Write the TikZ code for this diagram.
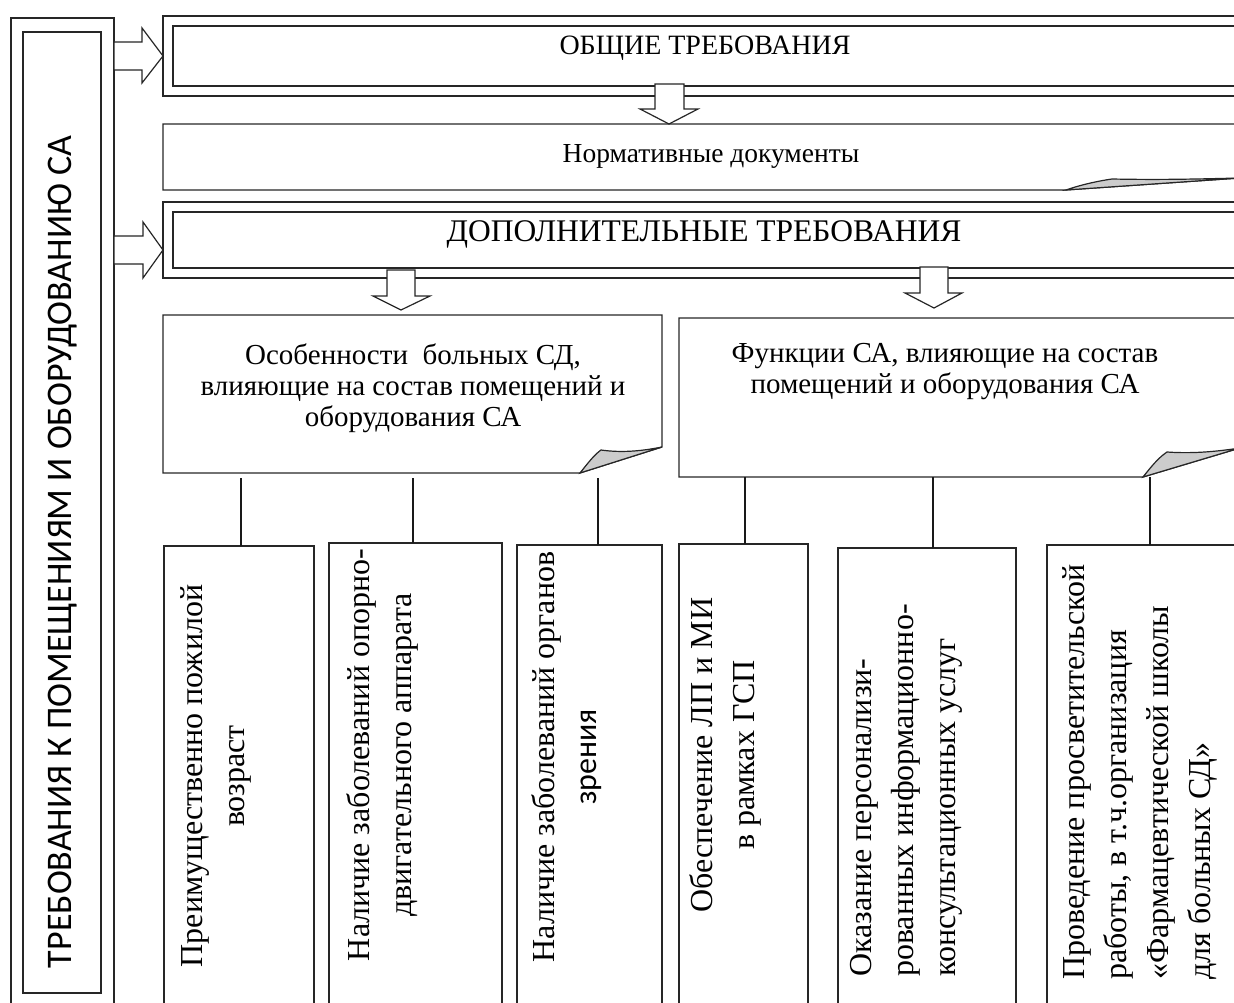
\documentclass[tikz,border=0pt]{standalone}
\usepackage{fontspec}
\setmainfont{Liberation Serif}
\newfontfamily\calib{Carlito}
\usetikzlibrary{calc}
\begin{document}
\begin{tikzpicture}[x=1pt,y=-1pt, line join=miter,
  box/.style={draw=black!85, line width=1.2pt, inner sep=0pt, outer sep=0pt, anchor=north west},
  ghost/.style={inner sep=0pt, outer sep=0pt, anchor=north west},
  outline/.style={draw=black!85, line width=1.2pt},
  flap/.style={fill=black!20, draw=black!85, line width=1.2pt},
  barrow/.style={draw=black!85, fill=white, line width=1.2pt},
  link/.style={draw=black!90, line width=2pt},
  midtxt/.style={font=\fontsize{29}{31}\selectfont, align=center, inner sep=0pt},
  vtxt/.style={rotate=90, font=\fontsize{32}{42}\selectfont, inner sep=0pt}
]
\useasboundingbox (0,0) rectangle (1234,1003);
\clip (0,0) rectangle (1234,1003);

% left title box
\node[box, minimum width=103pt, minimum height=1000pt] (Lout) at (11,18) {};
\node[box, minimum width=78pt, minimum height=961pt] (Lin) at (23,32) {};
\node[rotate=90, font=\calib\fontsize{36}{40}\selectfont, inner sep=0pt] (Ltitle) at (63,552) {ТРЕБОВАНИЯ К ПОМЕЩЕНИЯМ И ОБОРУДОВАНИЮ СА};

% general requirements
\node[box, minimum width=1100pt, minimum height=80pt] (Gout) at (163,16) {};
\node[box, minimum width=1080pt, minimum height=60pt] (Gin) at (173,26) {};
\node[font=\fontsize{28}{30}\selectfont, inner sep=0pt] (Gtxt) at (705,48) {ОБЩИЕ ТРЕБОВАНИЯ};

% normative documents
\node[ghost, minimum width=1077pt, minimum height=66pt] (Norm) at (163,124) {};
\draw[outline] (Norm.north west) -- (Norm.north east) -- ($(Norm.south east)+(0,-12)$) -- (1066,190) -- (Norm.south west) -- cycle;
\draw[flap] (1066,190) .. controls (1080,185) and (1098,181) .. (1112,179) .. controls (1160,180) and (1200,179) .. ($(Norm.south east)+(0,-12)$) -- cycle;
\node[font=\fontsize{27.5}{30}\selectfont, inner sep=0pt] (Ntxt) at (711,156) {Нормативные документы};

% additional requirements
\node[box, minimum width=1100pt, minimum height=76pt] (Dout) at (163,202) {};
\node[box, minimum width=1080pt, minimum height=56pt] (Din) at (173,212) {};
\node[font=\fontsize{31.5}{34}\selectfont, inner sep=0pt] (Dtxt) at (704,234) {ДОПОЛНИТЕЛЬНЫЕ ТРЕБОВАНИЯ};

% block arrows from the left box
\draw[barrow] (Lout.east |- 0,42) -- (142,42) -- (142,28) -- (Gout.west |- 0,56) -- (142,83) -- (142,70) -- (Lout.east |- 0,70) -- cycle;
\draw[barrow] (Lout.east |- 0,236) -- (143,236) -- (143,222) -- (Dout.west |- 0,250) -- (143,278) -- (143,264) -- (Lout.east |- 0,264) -- cycle;

% middle boxes
\node[ghost, minimum width=499pt, minimum height=158pt] (Osob) at (163,315) {};
\draw[outline] (Osob.north west) -- (Osob.north east) -- (662,447) -- (580,473) -- (Osob.south west) -- cycle;
\draw[flap] (580,473) .. controls (588,463) and (594,455) .. (601,450) .. controls (622,453) and (642,451) .. (662,447) -- cycle;
\node[midtxt] (Otxt) at (413,388) {Особенности\ \ больных СД,\\влияющие на состав помещений и\\оборудования СА};

\node[ghost, minimum width=561pt, minimum height=159pt] (Func) at (679,318) {};
\draw[outline] (Func.north west) -- (Func.north east) -- (1240,448) -- (1143,477) -- (Func.south west) -- cycle;
\draw[flap] (1143,477) .. controls (1151,467) and (1158,458) .. (1167,452) .. controls (1195,454) and (1220,451) .. (1240,448) -- cycle;
\node[midtxt] (Ftxt) at (945,372) {Функции СА, влияющие на состав\\помещений и оборудования СА};

% down block arrows
\draw[barrow] (655,84) -- (684,84) -- (684,109) -- (698,109) -- (Norm.north -| 669,0) -- (640,109) -- (655,109) -- cycle;
\draw[barrow] (387,270) -- (415,270) -- (415,296) -- (430,296) -- (401,310) -- (373,296) -- (387,296) -- cycle;
\draw[barrow] (920,267) -- (948,267) -- (948,293) -- (962,293) -- (934,308) -- (905,293) -- (920,293) -- cycle;

% bottom boxes
\node[box, minimum width=150pt, minimum height=480pt] (b1) at (164,546) {};
\node[box, minimum width=173pt, minimum height=480pt] (b2) at (329,543) {};
\node[box, minimum width=145pt, minimum height=480pt] (b3) at (517,545) {};
\node[box, minimum width=129pt, minimum height=480pt] (b4) at (679,544) {};
\node[box, line width=2pt, minimum width=178pt, minimum height=480pt] (b5) at (838,548) {};
\node[box, minimum width=220pt, minimum height=480pt] (b6) at (1047,545) {};

% connectors
\draw[link] ([xshift=2pt]b1.north) -- ([xshift=2pt,yshift=-5pt]b1.north |- Osob.south);
\draw[link] ([xshift=-3pt]b2.north) -- ([xshift=-3pt,yshift=-5pt]b2.north |- Osob.south);
\draw[link] ([xshift=8pt]b3.north) -- ([xshift=8pt,yshift=-5pt]b3.north |- Osob.south);
\draw[link] ([xshift=1pt]b4.north) -- ([xshift=1pt]b4.north |- Func.south);
\draw[link] ([xshift=6pt]b5.north) -- ([xshift=6pt]b5.north |- Func.south);
\draw[link] ([xshift=-7pt]b6.north) -- ([xshift=-7pt]b6.north |- Func.south);

% vertical texts
\node[vtxt, align=center] (t1) at (216,776) {Преимущественно пожилой\\возраст};
\node[vtxt, align=center] (t2) at (382,755) {Наличие заболеваний опорно-\\двигательного аппарата};
\node[vtxt, align=center] (t3) at (567,757) {Наличие заболеваний органов\\{\calib зрения}};
\node[vtxt, align=center] (t4) at (725,755) {Обеспечение ЛП и МИ\\в рамках ГСП};
\node[vtxt, align=left, anchor=north west] (t5) at (850,977) {Оказание персонализи-\\рованных информационно-\\консультационных услуг};
\node[vtxt, align=left, anchor=north west] (t6) at (1062,980) {Проведение просветительской\\работы, в т.ч.организация\\«Фармацевтической школы\\для больных СД»};
\end{tikzpicture}
\end{document}
